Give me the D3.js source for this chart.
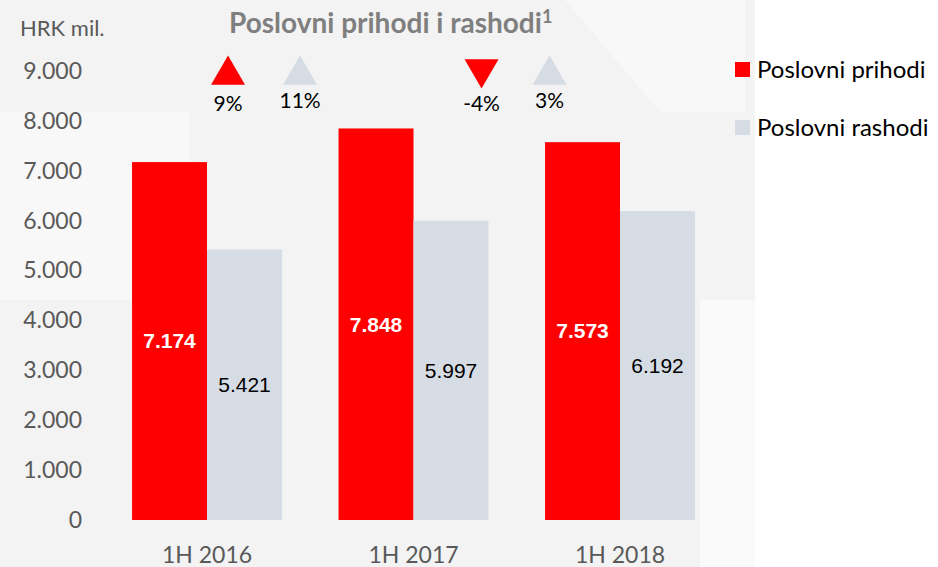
<!DOCTYPE html>
<html>
<head>
<meta charset="utf-8">
<script src="https://cdn.jsdelivr.net/npm/d3@7.9.0/dist/d3.min.js"></script>
<style>
  body { margin: 0; background: #fff; }
  svg { display: block; }
  .tick text { font-family: Lato, "Open Sans", sans-serif; }
</style>
</head>
<body>
<svg id="chart" width="938" height="567"></svg>
<script>
// data
const categories = ['1H 2016', '1H 2017', '1H 2018'];
const seriesNames = ['Poslovni prihodi', 'Poslovni rashodi'];
const prihodi = [7174, 7848, 7573];
const rashodi = [5421, 5997, 6192];
const yTicks = [0, 1000, 2000, 3000, 4000, 5000, 6000, 7000, 8000, 9000];
// year-on-year change, shown as triangles above the bars
const changePrihodi = [9, -4];
const changeRashodi = [11, 3];

const colors = { prihodi: '#ff0000', rashodi: '#d6dce4' };
const fmt = v => d3.format(',')(v).replace(/,/g, '.');

const svg = d3.select('#chart');

// faint background watermark
const bg = svg.append('g');
bg.append('rect').attr('x', 0).attr('y', 0).attr('width', 755).attr('height', 567).attr('fill', '#f3f3f3');
bg.append('polygon').attr('points', '0,112 190,112 190,300 0,300').attr('fill', '#f8f8f8');
bg.append('polygon').attr('points', '565,0 745,0 745,112 660,112').attr('fill', '#f8f8f8');
bg.append('polygon').attr('points', '700,300 755,300 755,567 700,567').attr('fill', '#fafafa');

const y = d3.scaleLinear().domain([0, 9000]).range([520, 71]);
const x = d3.scaleBand().domain(categories).range([103.75, 723.25])
  .paddingInner(0.274).paddingOuter(0.137);
const xs = d3.scaleBand().domain(seriesNames).range([0, x.bandwidth()]);

// y axis (labels only)
const yAxis = svg.append('g').attr('transform', 'translate(83,0)')
  .call(d3.axisLeft(y).tickValues(yTicks).tickFormat(fmt).tickSize(0).tickPadding(1));
yAxis.select('.domain').remove();
yAxis.selectAll('text').attr('font-size', 23).attr('fill', '#595959');

// x axis (labels only)
const xAxis = svg.append('g').attr('transform', 'translate(0,543)')
  .call(d3.axisBottom(x).tickSize(0).tickPadding(0));
xAxis.select('.domain').remove();
xAxis.selectAll('text').attr('font-size', 23).attr('fill', '#595959').attr('dy', '0.85em');

const rows = categories.map((c, i) => ({ cat: c, values: [
  { key: seriesNames[0], v: prihodi[i], fill: colors.prihodi, text: '#fff', weight: 'bold' },
  { key: seriesNames[1], v: rashodi[i], fill: colors.rashodi, text: '#000', weight: 'normal' }
]}));

const groups = svg.append('g').selectAll('g').data(rows).join('g')
  .attr('transform', d => `translate(${x(d.cat)},0)`);

groups.selectAll('rect').data(d => d.values).join('rect')
  .attr('x', d => xs(d.key))
  .attr('y', d => y(d.v))
  .attr('width', xs.bandwidth())
  .attr('height', d => y(0) - y(d.v))
  .attr('fill', d => d.fill);

groups.selectAll('text').data(d => d.values).join('text')
  .attr('x', d => xs(d.key) + xs.bandwidth() / 2)
  .attr('y', d => (y(0) + y(d.v)) / 2)
  .attr('dy', '0.35em')
  .attr('text-anchor', 'middle')
  .attr('font-family', '"Liberation Sans", Arial, sans-serif')
  .attr('font-size', 21)
  .attr('font-weight', d => d.weight)
  .attr('fill', d => d.text)
  .text(d => fmt(d.v));

// title
const title = svg.append('text').attr('x', 229).attr('y', 33)
  .attr('font-family', 'Lato, "Open Sans", sans-serif')
  .attr('font-size', 28).attr('font-weight', 'bold').attr('fill', '#7f7f7f');
title.append('tspan').text('Poslovni prihodi i rashodi');
title.append('tspan').attr('font-size', 18).attr('dy', -10).text('1');

svg.append('text').attr('x', 20).attr('y', 36)
  .attr('font-family', 'Lato, "Open Sans", sans-serif')
  .attr('font-size', 22).attr('fill', '#595959').text('HRK mil.');

// change indicators
const tri = d3.symbol().type(d3.symbolTriangle).size(500);
const changes = [
  { cx: x(categories[0]) + 96, v: changePrihodi[0], fill: colors.prihodi },
  { cx: x(categories[0]) + 168, v: changeRashodi[0], fill: colors.rashodi },
  { cx: x(categories[1]) + 143, v: changePrihodi[1], fill: colors.prihodi },
  { cx: x(categories[1]) + 211, v: changeRashodi[1], fill: colors.rashodi }
];
const ch = svg.append('g').selectAll('g').data(changes).join('g')
  .attr('transform', d => `translate(${d.cx},0)`);
ch.append('path')
  .attr('d', tri)
  .attr('transform', d => d.v >= 0 ? 'translate(0,75)' : 'translate(0,69) rotate(180)')
  .attr('fill', d => d.fill);
ch.append('text')
  .attr('y', (d, i) => i % 2 === 0 ? 111 : 108)
  .attr('text-anchor', 'middle')
  .attr('font-family', 'Lato, "Open Sans", sans-serif')
  .attr('font-size', 21).attr('fill', '#000')
  .text(d => d.v + '%');

// legend
const legend = svg.append('g').selectAll('g')
  .data([{ name: seriesNames[0], fill: colors.prihodi }, { name: seriesNames[1], fill: colors.rashodi }])
  .join('g').attr('transform', (d, i) => `translate(735,${62 + i * 58})`);
legend.append('rect').attr('width', 15).attr('height', 15).attr('fill', d => d.fill);
legend.append('text').attr('x', 22).attr('y', 8).attr('dy', '0.35em')
  .attr('font-family', 'Lato, "Open Sans", sans-serif')
  .attr('font-size', 24).attr('fill', '#000')
  .text(d => d.name);
</script>
</body>
</html>
